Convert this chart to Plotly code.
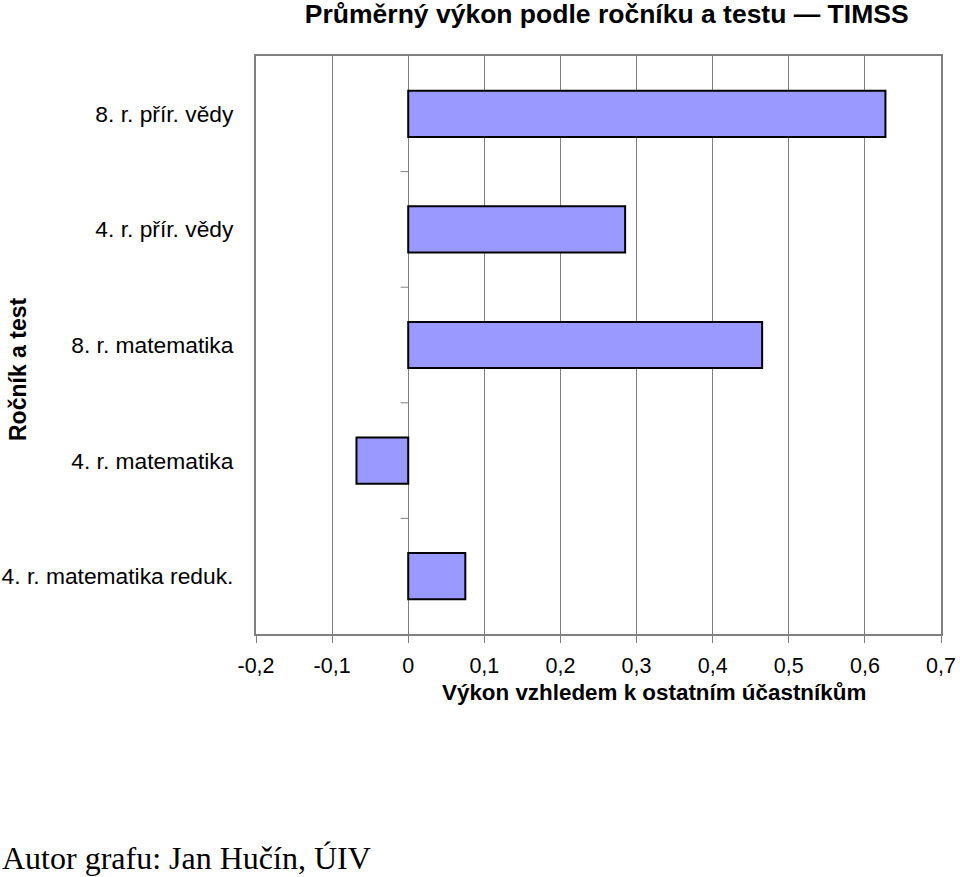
import plotly.graph_objects as go

categories = ["4. r. matematika reduk.", "4. r. matematika", "8. r. matematika",
              "4. r. přír. vědy", "8. r. přír. vědy"]
values = [0.075, -0.068, 0.465, 0.285, 0.627]
tick_vals = [-0.2, -0.1, 0.0, 0.1, 0.2, 0.3, 0.4, 0.5, 0.6, 0.7]
tick_text = ["-0,2", "-0,1", "0", "0,1", "0,2", "0,3", "0,4", "0,5", "0,6", "0,7"]

fig = go.Figure()
fig.add_trace(go.Bar(
    y=list(range(len(categories))), x=values, orientation="h", width=0.4,
    marker=dict(color="#9999FF", line=dict(color="black", width=2)),
    showlegend=False, hoverinfo="skip",
))

# small category tick marks on the vertical axis at x=0
for b in [i + 0.5 for i in range(len(categories) - 1)]:
    fig.add_shape(type="line", xref="x", yref="y", x0=-0.01, x1=0, y0=b, y1=b,
                  line=dict(color="#808080", width=1))

W_PLOT = 960 - 256 - 19
H_PLOT = 877 - 56 - 243

fig.update_layout(
    width=960, height=877,
    margin=dict(l=256, r=19, t=56, b=243),
    plot_bgcolor="white", paper_bgcolor="white",
    font=dict(family="Liberation Sans, Arial", size=22, color="black"),
    title=dict(text="<b>Průměrný výkon podle ročníku a testu — TIMSS</b>",
               x=0.632, xanchor="center", y=0.984, yanchor="middle",
               font=dict(size=26.5)),
    bargap=0.6,
)
fig.update_xaxes(
    range=[-0.2, 0.7], tickvals=tick_vals, ticktext=tick_text,
    automargin=False,
    showgrid=True, gridcolor="#808080", gridwidth=1,
    zeroline=True, zerolinecolor="#808080", zerolinewidth=1,
    showline=True, linecolor="#808080", linewidth=2, mirror=True,
    ticks="outside", ticklen=7, tickcolor="#808080",
    ticklabelstandoff=4,
    tickfont=dict(size=21.5),
)
fig.update_yaxes(
    range=[-0.5, len(categories) - 0.5],
    tickvals=list(range(len(categories))), ticktext=categories,
    automargin=False,
    showgrid=False, zeroline=False,
    showline=True, linecolor="#808080", linewidth=2, mirror=True,
    ticks="", ticklabelstandoff=16, tickfont=dict(size=22.8),
)
fig.add_annotation(text="<b>Výkon vzhledem k ostatním účastníkům</b>",
                   xref="paper", yref="paper",
                   x=(654 - 256) / W_PLOT, y=-(692 - 634) / H_PLOT,
                   xanchor="center", yanchor="middle", showarrow=False,
                   font=dict(size=22.4))
fig.add_annotation(text="<b>Ročník a test</b>", textangle=-90,
                   xref="paper", yref="paper", x=(18 - 256) / W_PLOT,
                   y=(634 - 370) / H_PLOT,
                   xanchor="center", yanchor="middle", showarrow=False,
                   font=dict(size=23))
fig.add_annotation(text="Autor grafu: Jan Hučín, ÚIV",
                   xref="paper", yref="paper", x=(0 - 256) / W_PLOT,
                   y=-(858 - 634) / H_PLOT,
                   xanchor="left", yanchor="middle", showarrow=False,
                   font=dict(size=32, family="Liberation Serif, Times New Roman"))

fig.write_html("out.html")
